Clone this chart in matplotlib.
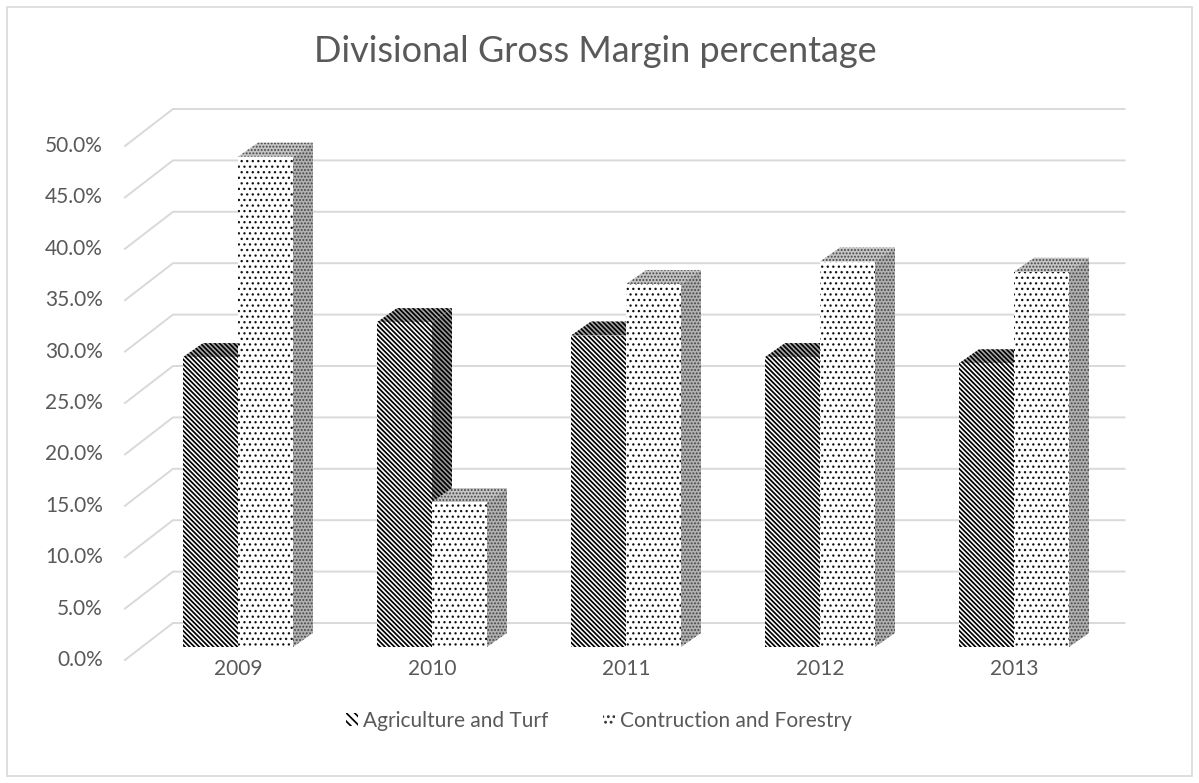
import matplotlib
matplotlib.use("Agg")
import matplotlib.pyplot as plt
from matplotlib.patches import Polygon, Patch, Rectangle
import numpy as np

# ---- data -------------------------------------------------------------
years = ['2009', '2010', '2011', '2012', '2013']
agri_turf = [28.2, 31.6, 30.3, 28.2, 27.6]
constr_forestry = [47.7, 14.1, 35.3, 37.5, 36.5]
series_names = ['Agriculture and Turf', 'Contruction and Forestry']
y_ticks = np.arange(0, 51, 5)
title = 'Divisional Gross Margin percentage'

# ---- style ------------------------------------------------------------
plt.rcParams['font.family'] = ['Lato', 'DejaVu Sans']
TEXT = '#595959'
GRID = '#d9d9d9'
STRIPE_LW = 1.25
DOT_LW = 0.9

W, H, DPI = 1199, 783, 100
fig = plt.figure(figsize=(W / DPI, H / DPI), dpi=DPI)

# pixel scale of the bar front plane
PX_PER_CAT = 194.0
PX_PER_PCT = 10.28
X0_PX, Y0_PX = 238.0, 647.0
AX_L, AX_R, AX_T, AX_B = 100, 1150, 90, 700
ax = fig.add_axes([AX_L / W, 1 - AX_B / H, (AX_R - AX_L) / W, (AX_B - AX_T) / H])
ax.set_xlim((AX_L - X0_PX) / PX_PER_CAT, (AX_R - X0_PX) / PX_PER_CAT)
ax.set_ylim((Y0_PX - AX_B) / PX_PER_PCT, (Y0_PX - AX_T) / PX_PER_PCT)
ax.axis('off')


def shift(x, y, dx_px, dy_px):
    """Move a data point by a screen offset in pixels (dy up)."""
    return x + dx_px / PX_PER_CAT, y + dy_px / PX_PER_PCT


# oblique depth offsets (pixels) relative to the bar front plane
FRONT_OFF = (-17, -13)
BACK_OFF = (31, 24)
BAR_DEPTH = (20, 14)
WALL_LEFT = -0.495
WALL_RIGHT = 4.41
BAR_W = 55 / PX_PER_CAT

# ---- walls & gridlines ------------------------------------------------
for v in y_ticks:
    fx, fy = shift(WALL_LEFT, v, *FRONT_OFF)
    bx, by = shift(WALL_LEFT, v, *BACK_OFF)
    rx, ry = shift(WALL_RIGHT, v, *BACK_OFF)
    ax.plot([fx, bx, rx], [fy, by, ry], color=GRID, lw=1.4, zorder=1,
            solid_joinstyle='miter')
    lx, ly = shift(fx, fy, -22, 0)
    ax.text(lx, ly, f'{v:.1f}%', ha='right', va='center', fontsize=15,
            color=TEXT)

# ---- bars -------------------------------------------------------------
x = np.arange(len(years))
AG_HATCH = '\\' * 7
CF_HATCH = '...'


def add_box_faces(bars, top_style, side_style, z):
    ddx, ddy = BAR_DEPTH
    for r in bars:
        x0, w, h = r.get_x(), r.get_width(), r.get_height()
        x1 = x0 + w
        top = [(x0, h), (x1, h), shift(x1, h, ddx, ddy), shift(x0, h, ddx, ddy)]
        side = [(x1, 0), shift(x1, 0, ddx, ddy), shift(x1, h, ddx, ddy), (x1, h)]
        ax.add_patch(Polygon(top, closed=True, linewidth=0, zorder=z, **top_style))
        ax.add_patch(Polygon(side, closed=True, linewidth=0, zorder=z, **side_style))


with plt.rc_context({'hatch.linewidth': STRIPE_LW}):
    ag_bars = ax.bar(x - BAR_W, agri_turf, width=BAR_W, align='edge',
                     facecolor='white', edgecolor='black', hatch=AG_HATCH,
                     linewidth=0, zorder=4)
    add_box_faces(ag_bars,
                  dict(facecolor='#a8a8a8', edgecolor='black', hatch=AG_HATCH),
                  dict(facecolor='#9a9a9a', edgecolor='black', hatch=AG_HATCH), 3)

with plt.rc_context({'hatch.linewidth': DOT_LW}):
    cf_bars = ax.bar(x, constr_forestry, width=BAR_W, align='edge',
                     facecolor='white', edgecolor='#111111', hatch=CF_HATCH,
                     linewidth=0, zorder=7)
    add_box_faces(cf_bars,
                  dict(facecolor='#c4c4c4', edgecolor='#444444', hatch='.....'),
                  dict(facecolor='#b0b0b0', edgecolor='#444444', hatch='.....'), 6)

# ---- category labels --------------------------------------------------
for i, yr in enumerate(years):
    ax.text(i, -22 / PX_PER_PCT, yr, ha='center', va='center', fontsize=15,
            color=TEXT)

# ---- title, legend, frame --------------------------------------------
fig.text(595 / W, 1 - 52 / H, title, ha='center', va='center', fontsize=26,
         color=TEXT)

with plt.rc_context({'hatch.linewidth': STRIPE_LW}):
    handles = [Patch(facecolor='white', edgecolor='black', hatch='\\\\\\\\', linewidth=0),
               Patch(facecolor='white', edgecolor='#333333', hatch='...', linewidth=0)]
    fig.legend(handles, series_names, loc='center', bbox_to_anchor=(599 / W, 1 - 721 / H),
               ncol=2, frameon=False, fontsize=15, handlelength=0.6, handleheight=0.6,
               handletextpad=0.25, columnspacing=2.6, labelcolor=TEXT)

fig.patches.append(Rectangle((7 / W, 7 / H), (1192 - 7) / W, (776 - 7) / H,
                             transform=fig.transFigure, fill=False,
                             edgecolor=GRID, linewidth=1.2))

fig.savefig('out.png', dpi=DPI)
